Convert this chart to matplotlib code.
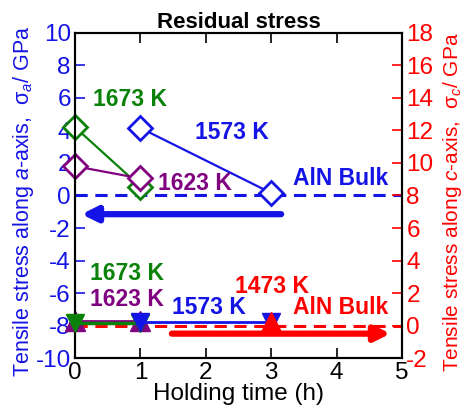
import matplotlib
matplotlib.use("Agg")
import matplotlib.pyplot as plt

plt.rcParams['font.family'] = ['Liberation Sans', 'DejaVu Sans']
plt.rcParams['mathtext.fontset'] = 'custom'
plt.rcParams['mathtext.rm'] = 'Liberation Sans'
plt.rcParams['mathtext.it'] = 'Liberation Sans:italic'
plt.rcParams['axes.unicode_minus'] = False

# --- data ---
t_1573_a = [1, 3]; sa_1573 = [4.15, 0.15]
t_1673_a = [0, 1]; sa_1673 = [4.2, 0.55]
t_1623_a = [0, 1]; sa_1623 = [1.8, 1.05]
bulk_a = 0.0

t_1673_c = [0, 1]; sc_1673 = [0.15, 0.15]
t_1623_c = [0, 1]; sc_1623 = [0.3, 0.3]
t_1573_c = [1, 3]; sc_1573 = [0.2, 0.2]
t_1473_c = [3]; sc_1473 = [0.2]
bulk_c = 0.0

xticks = [0, 1, 2, 3, 4, 5]
yticks_a = [-10, -8, -6, -4, -2, 0, 2, 4, 6, 8, 10]
yticks_c = [-2, 0, 2, 4, 6, 8, 10, 12, 14, 16, 18]

BLUE = '#1414e6'
GREEN = '#0a820a'
PURPLE = '#800080'
RED = '#ff0000'

fig = plt.figure(figsize=(4.66, 4.12), dpi=100)
ax = fig.add_axes([0.161, 0.131, 0.702, 0.789])
ax2 = ax.twinx()

ax.set_xlim(0, 5)
ax.set_ylim(-10, 10)
ax2.set_ylim(-2, 18)

# upper (a-axis) data
mk = dict(marker='D', markersize=12, markerfacecolor='white', markeredgewidth=2, linewidth=1.6, clip_on=False)
ax.axhline(bulk_a, color=BLUE, linestyle=(0, (4, 2.5)), linewidth=2.2, zorder=1)
ax.plot(t_1573_a, sa_1573, color=BLUE, markeredgecolor=BLUE, **mk, zorder=3)
ax.plot(t_1673_a, sa_1673, color=GREEN, markeredgecolor=GREEN, **mk, zorder=3)
ax.plot(t_1623_a, sa_1623, color=PURPLE, markeredgecolor=PURPLE, **mk, zorder=3)
ax.annotate('', xy=(0.1, -1.15), xytext=(3.15, -1.15),
            arrowprops=dict(arrowstyle='-|>,head_length=0.9,head_width=0.45', color=BLUE, lw=4.5, shrinkA=0, shrinkB=0))

# lower (c-axis) data
ax2.axhline(bulk_c, color=RED, linestyle=(0, (4, 2.5)), linewidth=2.2, zorder=1)
ax2.plot(t_1623_c, sc_1623, color=PURPLE, marker='^', markersize=15, linewidth=2, zorder=2, clip_on=False)
ax2.plot(t_1673_c, sc_1673, color=GREEN, marker='v', markersize=13, linewidth=2.5, zorder=3, clip_on=False)
ax2.plot(t_1573_c, sc_1573, color=BLUE, marker='v', markersize=13, linewidth=2, zorder=3, clip_on=False)
ax2.plot(t_1473_c, sc_1473, color=RED, marker='^', markersize=15, linewidth=0, zorder=4, clip_on=False)
ax2.annotate('', xy=(4.82, -0.5), xytext=(1.48, -0.5),
             arrowprops=dict(arrowstyle='-|>,head_length=0.9,head_width=0.45', color=RED, lw=4.5, shrinkA=0, shrinkB=0))

# annotations
fs = 16.5
ax.text(0.28, 5.9, '1673 K', color=GREEN, fontsize=fs, fontweight='bold', va='center')
ax.text(1.83, 3.9, '1573 K', color=BLUE, fontsize=fs, fontweight='bold', va='center')
ax.text(1.27, 0.75, '1623 K', color=PURPLE, fontsize=fs, fontweight='bold', va='center')
ax.text(3.33, 1.05, 'AlN Bulk', color=BLUE, fontsize=fs, fontweight='bold', va='center')
ax.text(0.23, -4.8, '1673 K', color=GREEN, fontsize=fs, fontweight='bold', va='center')
ax.text(0.23, -6.4, '1623 K', color=PURPLE, fontsize=fs, fontweight='bold', va='center')
ax.text(1.48, -6.9, '1573 K', color=BLUE, fontsize=fs, fontweight='bold', va='center')
ax.text(2.45, -5.6, '1473 K', color=RED, fontsize=fs, fontweight='bold', va='center')
ax.text(3.33, -6.9, 'AlN Bulk', color=RED, fontsize=fs, fontweight='bold', va='center')

ax.set_title('Residual stress', fontsize=16, fontweight='bold', pad=3)

# ticks
ax.set_xticks(xticks)
ax.set_yticks(yticks_a)
ax2.set_yticks(yticks_c)
ax.tick_params(axis='x', direction='in', top=True, length=7, width=1.2, labelsize=17.5, pad=3)
ax.tick_params(axis='y', direction='in', length=7, width=1.2, color=BLUE, labelcolor=BLUE, labelsize=17.5, pad=3)
ax2.tick_params(axis='y', direction='in', length=7, width=1.2, color=RED, labelcolor=RED, labelsize=17.5, pad=3)
for a in (ax, ax2):
    for s in a.spines.values():
        s.set_linewidth(1.5)
        s.set_color('black')

ax.set_xlabel('Holding time (h)', fontsize=17.5, labelpad=-1)
ax.set_ylabel('Tensile stress along $\\it{a}$-axis,  σ$_{\\it{a}}$/ GPa', color=BLUE, fontsize=15.5)
ax2.set_ylabel('Tensile stress along $\\it{c}$-axis,  σ$_{\\it{c}}$/ GPa', color=RED, fontsize=15, rotation=90)
ax.yaxis.set_label_coords(-0.118, 0.482)
ax2.yaxis.set_label_coords(1.12, 0.478)

fig.savefig('out.png', dpi=100)
